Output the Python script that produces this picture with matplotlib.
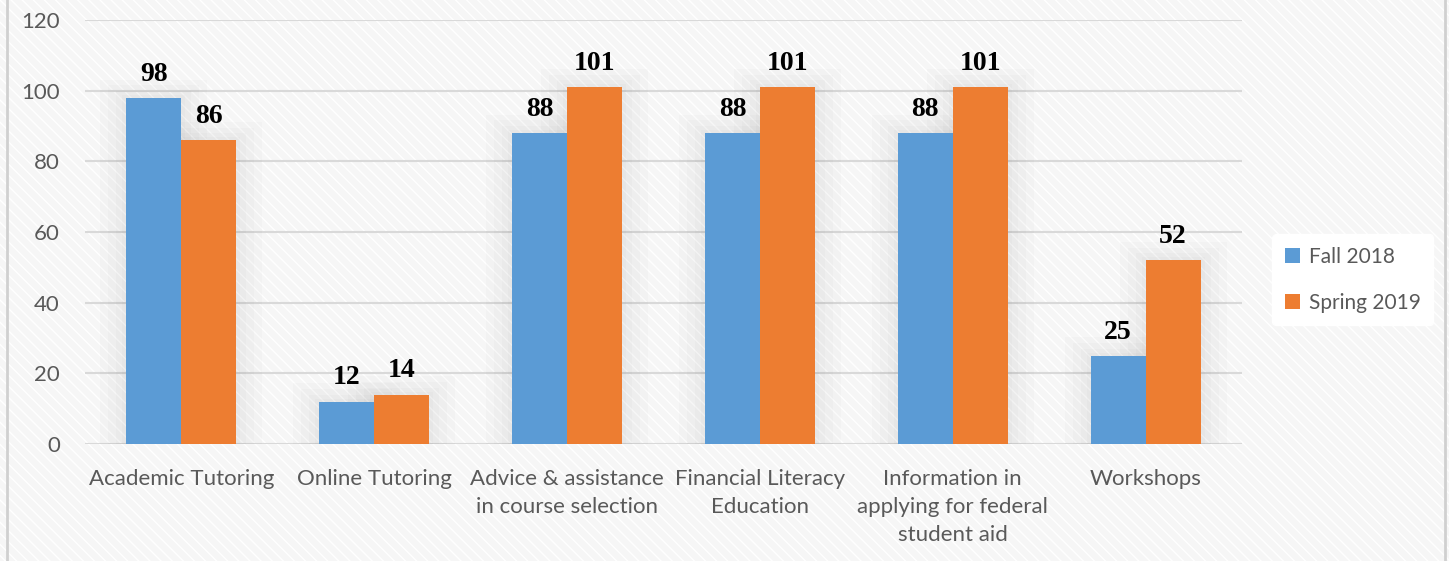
import numpy as np
import matplotlib.pyplot as plt
from matplotlib.patches import Rectangle

categories = ["Academic Tutoring", "Online Tutoring", "Advice & assistance\nin course selection",
              "Financial Literacy\nEducation", "Information in\napplying for federal\nstudent aid", "Workshops"]
fall_2018 = [98, 12, 88, 88, 88, 25]
spring_2019 = [86, 14, 101, 101, 101, 52]
series_names = ["Fall 2018", "Spring 2019"]

blue = '#5b9bd5'
orange = '#ed7d31'
txt = '#595959'

fig = plt.figure(figsize=(14.49, 5.61), dpi=100)
fig.patch.set_facecolor('#f6f6f6')
# фон с диагональными полосками
bg = Rectangle((0, 0), 1, 1, transform=fig.transFigure, facecolor='#f6f6f6',
               edgecolor='#ffffff', hatch='\\\\\\', linewidth=0, zorder=-10)
fig.patches.append(bg)
# рамка слева и справа
fig.add_artist(plt.Line2D([0.005, 0.005], [0, 1], color='#d0d0d0', lw=2, transform=fig.transFigure))
fig.add_artist(plt.Line2D([0.997, 0.997], [0, 1], color='#d0d0d0', lw=2, transform=fig.transFigure))

ax = fig.add_axes([85/1449, 1 - 444/561, (1242-85)/1449, 424/561])
ax.set_facecolor('none')

x = np.arange(len(categories))
w = 0.285

# мягкие тени вокруг столбиков
px_x = len(categories) / 1157
px_y = 120 / 424
for vals, off in [(fall_2018, -w/2), (spring_2019, w/2)]:
    for xi, v in zip(x, vals):
        for pad in [26, 18, 10, 4]:
            ax.add_patch(Rectangle((xi + off - w/2 - pad*px_x, 0), w + 2*pad*px_x, v + pad*px_y*0.7,
                                   facecolor='#000000', alpha=0.016, linewidth=0, zorder=1))

b1 = ax.bar(x - w/2, fall_2018, w, color=blue, label=series_names[0], zorder=3)
b2 = ax.bar(x + w/2, spring_2019, w, color=orange, label=series_names[1], zorder=3)

for bars in (b1, b2):
    for r in bars:
        ax.annotate(str(int(r.get_height())), (r.get_x() + r.get_width()/2, r.get_height()),
                    xytext=(0, 8), textcoords='offset points', ha='center', va='bottom',
                    family='Liberation Serif', fontweight='bold', fontsize=20, color='black', zorder=5)

ax.set_ylim(0, 120)
ax.set_xlim(-0.5, len(categories) - 0.5)
ax.set_yticks(range(0, 121, 20))
ax.yaxis.grid(True, color='#d9d9d9', linewidth=1.5, zorder=0)
ax.set_axisbelow(True)
for s in ax.spines.values():
    s.set_visible(False)
ax.tick_params(axis='both', length=0, colors=txt, labelsize=16)
ax.tick_params(axis='y', pad=18)
ax.tick_params(axis='x', pad=18)
ax.set_xticks(x)
ax.set_xticklabels(categories, linespacing=1.5)
for lab in ax.get_xticklabels() + ax.get_yticklabels():
    lab.set_family('Lato')

leg = fig.legend(loc='upper left', bbox_to_anchor=(1262/1449, 1 - 224/561), frameon=True,
                 prop={'family': 'Lato', 'size': 15}, handlelength=0.7, handleheight=0.7,
                 labelspacing=1.25, borderpad=0.6, handletextpad=0.45)
leg.get_frame().set_facecolor('white')
leg.get_frame().set_edgecolor('white')
leg.get_frame().set_alpha(1)
for t in leg.get_texts():
    t.set_color(txt)

fig.savefig('out.png', dpi=100, facecolor=fig.get_facecolor())
